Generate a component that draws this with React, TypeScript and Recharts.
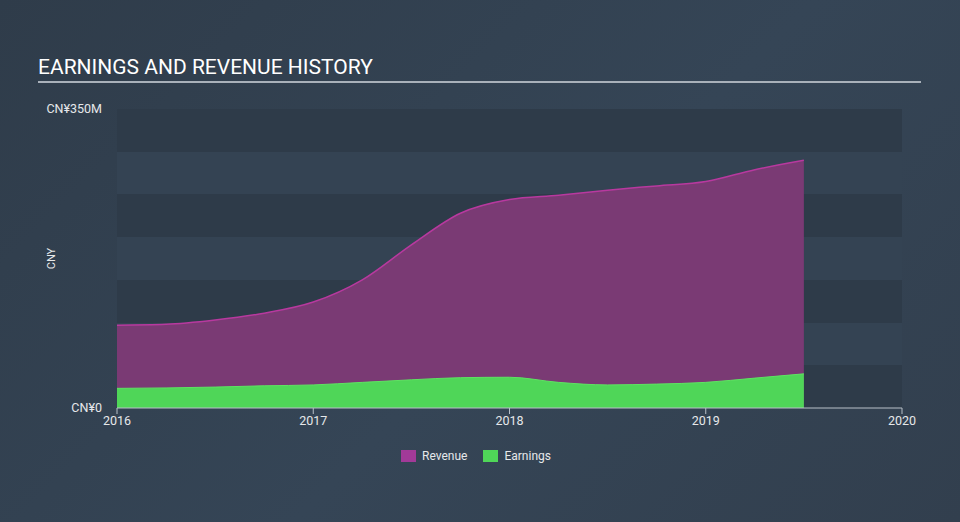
import { AreaChart, Area, XAxis, YAxis, CartesianGrid } from 'recharts';

const years = [2016, 2016.25, 2016.5, 2016.75, 2017, 2017.25, 2017.5, 2017.75, 2018, 2018.25, 2018.5, 2018.75, 2019, 2019.25, 2019.5];
const revenue = [97, 98, 103, 111, 124, 150, 191, 228, 244, 249, 255, 260, 265, 279, 290];
const earnings = [23, 23.5, 24.5, 26, 27, 30, 33, 35.5, 36, 30, 27, 28, 30, 35, 40];
const xTicks = [2016, 2017, 2018, 2019, 2020];
const yTicks = [0, 50, 100, 150, 200, 250, 300, 350];

const chartData = years.map((year, i) => ({
  year,
  revenue: revenue[i],
  earnings: earnings[i],
}));

const legendItems = [
  { name: 'Revenue', color: '#a23a98' },
  { name: 'Earnings', color: '#4fd658' },
];

export default function App() {
  return (
    <div
      style={{
        position: 'absolute',
        left: 0,
        top: 0,
        width: 960,
        height: 522,
        background: 'linear-gradient(135deg, #2f3c4a 0%, #354556 55%, #323f4e 100%)',
        fontFamily: 'Roboto, sans-serif',
        overflow: 'hidden',
      }}
    >
      <div
        style={{
          position: 'absolute',
          left: 38,
          top: 55,
          fontSize: 21,
          color: '#ffffff',
        }}
      >
        EARNINGS AND REVENUE HISTORY
      </div>
      <div style={{ position: 'absolute', left: 38, top: 81, width: 883, height: 2, background: '#a9b1ba' }} />

      <div style={{ position: 'absolute', left: 0, top: 0 }}>
        <AreaChart width={960} height={522} data={chartData} margin={{ top: 109, right: 58, left: 47, bottom: 84 }}>
          <CartesianGrid
            vertical={false}
            stroke="none"
            horizontalFill={['#2e3b49', '#344353']}
            fillOpacity={1}
          />
          <XAxis
            dataKey="year"
            type="number"
            domain={[2016, 2020]}
            ticks={xTicks}
            height={30}
            stroke="#b8c0c8"
            tickSize={6}
            tickMargin={2}
            tick={{ fill: '#e6e8ea', fontSize: 12.5 }}
          />
          <YAxis
            width={70}
            domain={[0, 350]}
            ticks={yTicks}
            axisLine={false}
            tickLine={false}
            tickMargin={9}
            interval={0}
            tickFormatter={(v: number) => (v === 0 ? 'CN¥0' : v === 350 ? 'CN¥350M' : '')}
            tick={{ fill: '#e6e8ea', fontSize: 12.5 }}
            label={{
              value: 'CNY',
              angle: -90,
              position: 'insideLeft',
              offset: 4,
              style: { fill: '#e6e8ea', fontSize: 11, textAnchor: 'middle' },
            }}
          />
          <Area
            type="monotone"
            dataKey="revenue"
            stroke="#b8399f"
            strokeWidth={1.5}
            fill="#7a3a74"
            fillOpacity={1}
            isAnimationActive={false}
          />
          <Area
            type="monotone"
            dataKey="earnings"
            stroke="#5ee362"
            strokeWidth={1}
            fill="#4fd658"
            fillOpacity={1}
            isAnimationActive={false}
          />
        </AreaChart>
      </div>

      <div
        style={{
          position: 'absolute',
          top: 449,
          left: 0,
          width: 960,
          display: 'flex',
          justifyContent: 'center',
          gap: 16,
          paddingRight: 8,
          boxSizing: 'border-box',
        }}
      >
        {legendItems.map((item) => (
          <div key={item.name} style={{ display: 'flex', alignItems: 'center', gap: 6 }}>
            <div style={{ width: 15, height: 12, background: item.color }} />
            <span style={{ color: '#e6e8ea', fontSize: 12 }}>{item.name}</span>
          </div>
        ))}
      </div>
    </div>
  );
}
